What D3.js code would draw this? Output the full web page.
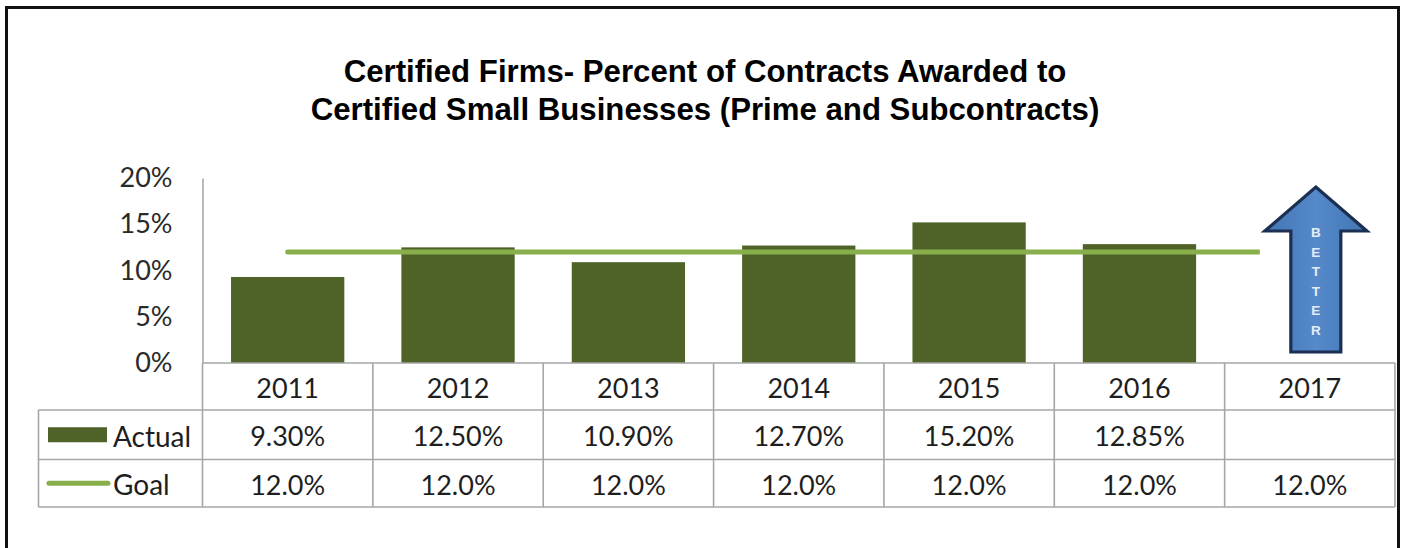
<!DOCTYPE html>
<html>
<head>
<meta charset="utf-8">
<script src="https://cdn.jsdelivr.net/npm/d3@7/dist/d3.min.js"></script>
<style>
  html, body { margin: 0; padding: 0; background: #fff; }
  svg { display: block; }
</style>
</head>
<body>
<svg id="chart" width="1403" height="548"></svg>
<script>
// Contract share awarded to certified small businesses, by year
const years = ["2011", "2012", "2013", "2014", "2015", "2016", "2017"];
const actual = [9.30, 12.50, 10.90, 12.70, 15.20, 12.85, null];
const goal = [12.0, 12.0, 12.0, 12.0, 12.0, 12.0, 12.0];
const yTicks = [0, 5, 10, 15, 20];
const titleLines = [
  "Certified Firms- Percent of Contracts Awarded to",
  "Certified Small Businesses (Prime and Subcontracts)"
];
const arrowLetters = ["B", "E", "T", "T", "E", "R"];

const svg = d3.select("#chart");
const W = 1403, H = 548;

const barColor = "#4f6228";
const goalColor = "#88af4c";
const gridColor = "#a6a6a6";
const textColor = "#1e1e1e";
const bodyFont = "Lato, 'Open Sans', sans-serif";

svg.append("rect").attr("width", W).attr("height", H).attr("fill", "#fff");

// outer frame (open at the bottom edge)
svg.append("path")
  .attr("d", `M6.5,${H + 5} V7.5 H1398.5 V${H + 5}`)
  .attr("fill", "none").attr("stroke", "#111").attr("stroke-width", 3);

// title
svg.append("g").selectAll("text").data(titleLines).join("text")
  .attr("x", 705).attr("y", (d, i) => 82 + i * 38)
  .attr("text-anchor", "middle")
  .attr("font-family", "'Liberation Sans', Arial, sans-serif")
  .attr("font-weight", "bold").attr("font-size", 31.2)
  .attr("fill", "#000")
  .text(d => d);

// scales
const x = d3.scaleBand().domain(years).range([202.5, 1395]).paddingInner(0).paddingOuter(0);
const y = d3.scaleLinear().domain([0, 20]).range([363, 178]);
const bw = x.bandwidth();
const barW = bw * 0.665;

// y axis
const yAxis = d3.axisLeft(y).tickValues(yTicks).tickFormat(d => d + "%")
  .tickSize(0).tickPadding(30);
const gy = svg.append("g").attr("transform", "translate(202.5,0)").call(yAxis);
gy.select(".domain").attr("stroke", "#8c8c8c").attr("stroke-width", 1.2);
gy.selectAll("text")
  .attr("font-family", bodyFont).attr("font-size", 27)
  .attr("fill", "#2a2a2a");

// bars
const barData = years.map((yr, i) => ({ yr, v: actual[i] })).filter(d => d.v != null);
svg.append("g").selectAll("rect").data(barData).join("rect")
  .attr("x", d => x(d.yr) + (bw - barW) / 2)
  .attr("y", d => y(d.v))
  .attr("width", barW)
  .attr("height", d => y(0) - y(d.v))
  .attr("fill", barColor);

// goal line, stopping short of the arrow
const arrowCx = x("2017") + bw / 2 + 6;
svg.append("clipPath").attr("id", "goalClip")
  .append("rect").attr("x", 0).attr("y", 0)
  .attr("width", arrowCx - 56).attr("height", H);
const goalLine = d3.line()
  .x((d, i) => x(years[i]) + bw / 2)
  .y(d => y(d));
svg.append("path")
  .attr("d", goalLine(goal))
  .attr("clip-path", "url(#goalClip)")
  .attr("fill", "none").attr("stroke", goalColor)
  .attr("stroke-width", 5).attr("stroke-linecap", "round");

// "BETTER" arrow
const defs = svg.append("defs");
const grad = defs.append("linearGradient").attr("id", "arrowFill")
  .attr("x1", "0%").attr("x2", "100%").attr("y1", "0%").attr("y2", "0%");
grad.append("stop").attr("offset", "0%").attr("stop-color", "#4275b4");
grad.append("stop").attr("offset", "50%").attr("stop-color", "#5689c9");
grad.append("stop").attr("offset", "100%").attr("stop-color", "#4275b4");

const tipY = 187, headY = 231, baseY = 352;
const headHalf = 51, shaftHalf = 25;
const arrowPts = [
  [arrowCx, tipY],
  [arrowCx + headHalf, headY],
  [arrowCx + shaftHalf, headY],
  [arrowCx + shaftHalf, baseY],
  [arrowCx - shaftHalf, baseY],
  [arrowCx - shaftHalf, headY],
  [arrowCx - headHalf, headY]
];
svg.append("path")
  .attr("d", d3.line()(arrowPts) + "Z")
  .attr("fill", "url(#arrowFill)")
  .attr("stroke", "#1b2f52").attr("stroke-width", 3.2)
  .attr("stroke-linejoin", "miter");
svg.append("g").selectAll("text").data(arrowLetters).join("text")
  .attr("x", arrowCx).attr("y", (d, i) => 237 + i * 19.5)
  .attr("text-anchor", "middle")
  .attr("font-family", "'Liberation Sans', Arial, sans-serif")
  .attr("font-weight", "bold").attr("font-size", 13.5)
  .attr("fill", "#e4ecf7")
  .text(d => d);

// data table
const rowTop = y(0);
const rowLines = [rowTop, 410, 459.5, 507];
const tableLeft = 38.5, tableRight = 1395;
const g = svg.append("g").attr("stroke", gridColor).attr("stroke-width", 1.6);
g.append("line").attr("x1", x.range()[0]).attr("x2", tableRight).attr("y1", rowLines[0]).attr("y2", rowLines[0]);
rowLines.slice(1).forEach(ry => {
  g.append("line").attr("x1", tableLeft).attr("x2", tableRight).attr("y1", ry).attr("y2", ry);
});
g.append("line").attr("x1", tableLeft).attr("x2", tableLeft).attr("y1", rowLines[1]).attr("y2", rowLines[3]);
years.concat([null]).forEach((yr, i) => {
  const cx = yr ? x(yr) : tableRight;
  g.append("line").attr("x1", cx).attr("x2", cx).attr("y1", rowLines[0]).attr("y2", rowLines[3]);
});

const cellText = (sel) => sel
  .attr("text-anchor", "middle").attr("dominant-baseline", "central")
  .attr("font-family", bodyFont).attr("font-size", 27).attr("fill", textColor);

const rowMid = i => (rowLines[i] + rowLines[i + 1]) / 2;

svg.append("g").selectAll("text").data(years).join("text")
  .attr("x", d => x(d) + bw / 2).attr("y", rowMid(0) + 1)
  .call(cellText).text(d => d);

svg.append("g").selectAll("text").data(actual).join("text")
  .attr("x", (d, i) => x(years[i]) + bw / 2).attr("y", rowMid(1) + 1)
  .call(cellText).text(d => d == null ? "" : d.toFixed(2) + "%");

svg.append("g").selectAll("text").data(goal).join("text")
  .attr("x", (d, i) => x(years[i]) + bw / 2).attr("y", rowMid(2) + 1)
  .call(cellText).text(d => d.toFixed(1) + "%");

// legend keys in the table's first column
svg.append("rect")
  .attr("x", 48).attr("y", rowMid(1) - 7.5).attr("width", 59).attr("height", 15)
  .attr("fill", barColor);
svg.append("line")
  .attr("x1", 49).attr("x2", 108).attr("y1", rowMid(2)).attr("y2", rowMid(2))
  .attr("stroke", goalColor).attr("stroke-width", 5).attr("stroke-linecap", "round");
svg.append("g").selectAll("text").data(["Actual", "Goal"]).join("text")
  .attr("x", 113).attr("y", (d, i) => rowMid(i + 1) + 1)
  .attr("dominant-baseline", "central")
  .attr("font-family", bodyFont).attr("font-size", 28).attr("fill", textColor)
  .text(d => d);
</script>
</body>
</html>
